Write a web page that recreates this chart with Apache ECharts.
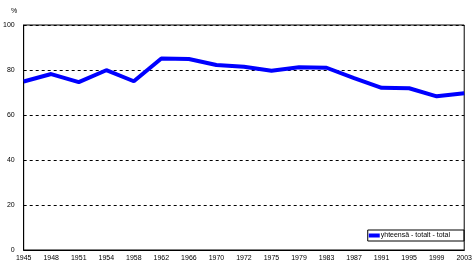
<!DOCTYPE html>
<html><head><meta charset="utf-8">
<script src="https://cdn.jsdelivr.net/npm/echarts@6/dist/echarts.min.js"></script>
<style>html,body{margin:0;padding:0;background:#fff}#c{width:475px;height:265px}</style>
</head><body><div id="c"></div>
<script>
const years = ['1945','1948','1951','1954','1958','1962','1966','1970','1972','1975','1979','1983','1987','1991','1995','1999','2003'];
const turnout = [74.9,78.2,74.6,79.9,75.0,85.1,84.9,82.2,81.4,79.7,81.2,81.0,76.4,72.1,71.9,68.3,69.7];
const seriesName = 'yhteensä - totalt - total';
const yTicks = [0,20,40,60,80,100];

const chart = echarts.init(document.getElementById('c'), null, {renderer:'canvas'});
const font = 'Liberation Sans, Arial, sans-serif';
chart.setOption({
  animation:false,
  backgroundColor:'#fff',
  grid:{left:23,right:7,top:25,bottom:15,show:true,borderColor:'#000',borderWidth:1},
  title:{text:'%',left:6,top:3,textStyle:{fontSize:7,fontWeight:'normal',color:'#000',fontFamily:font}},
  legend:{right:11,bottom:24,orient:'horizontal',borderColor:'#000',borderWidth:1,padding:[2,14,2,1],
    itemWidth:11,itemHeight:4,itemGap:0,icon:'rect',
    textStyle:{fontSize:7,color:'#000',fontFamily:font,padding:[0,0,0,-4]},
    data:[{name:seriesName}]},
  xAxis:{type:'category',data:years,boundaryGap:false,
    axisLine:{lineStyle:{color:'#000',width:1}},axisTick:{show:false},
    axisLabel:{fontSize:7,color:'#000',fontFamily:font,interval:0,margin:5},
    splitLine:{show:false}},
  yAxis:{type:'value',min:0,max:100,interval:20,
    axisLine:{show:true,lineStyle:{color:'#000',width:1}},axisTick:{show:false},
    axisLabel:{fontSize:7,color:'#000',fontFamily:font,margin:9,
      formatter:v=>yTicks.includes(v)?String(v):''},
    splitLine:{show:true,lineStyle:{color:'#000',type:[3,3],width:1}}},
  series:[{name:seriesName,type:'line',data:turnout,symbol:'none',
    lineStyle:{color:'#0000ff',width:4},itemStyle:{color:'#0000ff'}}]
});
</script></body></html>
